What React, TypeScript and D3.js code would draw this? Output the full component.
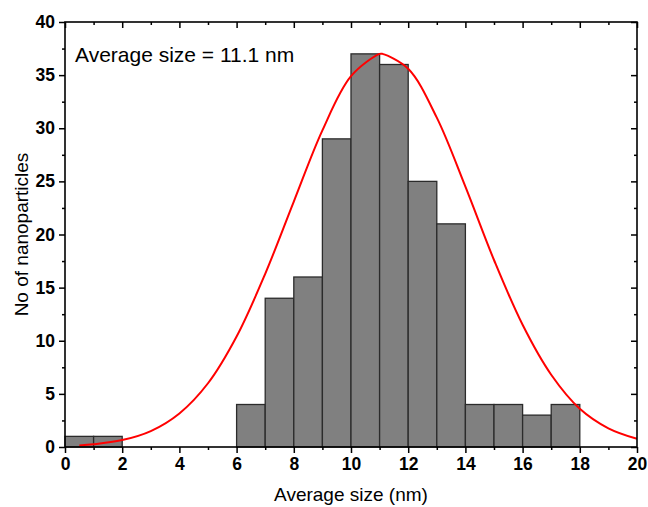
import React, { useRef, useEffect } from "react";
import * as d3 from "d3";

// histogram bins (nm) and counts
const binStarts = [0, 1, 2, 3, 4, 5, 6, 7, 8, 9, 10, 11, 12, 13, 14, 15, 16, 17];
const counts = [1, 1, 0, 0, 0, 0, 4, 14, 16, 29, 37, 36, 25, 21, 4, 4, 3, 4];

// red fit curve
const fitX = [0.5, 1, 2, 3, 4, 5, 6, 7, 8, 9, 10, 11, 11.1, 12, 13, 14, 15, 16, 17, 18, 19, 20];
const fitY = [0.15, 0.25, 0.65, 1.5, 3.16, 6.0, 10.4, 16.3, 23.1, 29.8, 34.9, 37.0, 37.0, 35.6, 31.0, 24.5, 17.6, 11.5, 6.8, 3.6, 1.76, 0.77];

const xMajor = [0, 2, 4, 6, 8, 10, 12, 14, 16, 18, 20];
const yMajor = [0, 5, 10, 15, 20, 25, 30, 35, 40];

const W = 648;
const H = 507;
const margin = { top: 22, right: 11, bottom: 60, left: 65 };

function App() {
  const svgRef = useRef<SVGSVGElement>(null);

  useEffect(() => {
    const svg = d3.select(svgRef.current);
    svg.selectAll("*").remove();

    const x = d3.scaleLinear().domain([0, 20]).range([margin.left, W - margin.right]);
    const y = d3.scaleLinear().domain([0, 40]).range([H - margin.bottom, margin.top]);

    const font = "'Liberation Sans', Arial, sans-serif";

    // bars
    svg
      .append("g")
      .selectAll("rect")
      .data(binStarts.map((b, i) => ({ b, c: counts[i] })).filter((d) => d.c > 0))
      .join("rect")
      .attr("x", (d) => x(d.b))
      .attr("y", (d) => y(d.c))
      .attr("width", (d) => x(d.b + 1) - x(d.b))
      .attr("height", (d) => y(0) - y(d.c))
      .attr("fill", "#808080")
      .attr("stroke", "#2b2b2b")
      .attr("stroke-width", 1.3);

    // fit curve
    const line = d3
      .line<number>()
      .x((d, i) => x(fitX[i]))
      .y((d) => y(d))
      .curve(d3.curveCatmullRom);
    svg
      .append("path")
      .attr("d", line(fitY))
      .attr("fill", "none")
      .attr("stroke", "#ff0000")
      .attr("stroke-width", 2);

    const minorX = d3.range(1, 20, 2);
    const minorY = d3.range(2.5, 40, 5);

    // bottom axis (outward ticks)
    const bottom = svg.append("g").attr("transform", `translate(0,${y(0)})`);
    bottom
      .call(d3.axisBottom(x).tickValues(xMajor).tickSize(6).tickPadding(5).tickFormat(d3.format("d")))
      .call((g) => g.select(".domain").remove());
    bottom.append("g").call(d3.axisBottom(x).tickValues(minorX).tickSize(3).tickFormat(() => ""))
      .call((g) => g.select(".domain").remove());

    // left axis
    const left = svg.append("g").attr("transform", `translate(${x(0)},0)`);
    left
      .call(d3.axisLeft(y).tickValues(yMajor).tickSize(6).tickPadding(4).tickFormat(d3.format("d")))
      .call((g) => g.select(".domain").remove());
    left.append("g").call(d3.axisLeft(y).tickValues(minorY).tickSize(3).tickFormat(() => ""))
      .call((g) => g.select(".domain").remove());

    // top axis (inward ticks)
    const top = svg.append("g").attr("transform", `translate(0,${y(40)})`);
    top.call(d3.axisBottom(x).tickValues(xMajor).tickSize(6).tickFormat(() => ""))
      .call((g) => g.select(".domain").remove());
    top.append("g").call(d3.axisBottom(x).tickValues(minorX).tickSize(3).tickFormat(() => ""))
      .call((g) => g.select(".domain").remove());

    // right axis (inward ticks)
    const right = svg.append("g").attr("transform", `translate(${x(20)},0)`);
    right.call(d3.axisLeft(y).tickValues(yMajor).tickSize(6).tickFormat(() => ""))
      .call((g) => g.select(".domain").remove());
    right.append("g").call(d3.axisLeft(y).tickValues(minorY).tickSize(3).tickFormat(() => ""))
      .call((g) => g.select(".domain").remove());

    svg.selectAll(".tick line").attr("stroke", "#000").attr("stroke-width", 1.5);
    svg
      .selectAll(".tick text")
      .attr("fill", "#000")
      .style("font-family", font)
      .style("font-weight", "bold")
      .style("font-size", "17.5px");

    // frame
    svg
      .append("rect")
      .attr("x", x(0))
      .attr("y", y(40))
      .attr("width", x(20) - x(0))
      .attr("height", y(0) - y(40))
      .attr("fill", "none")
      .attr("stroke", "#000")
      .attr("stroke-width", 1.6);

    // titles
    svg
      .append("text")
      .attr("x", (x(0) + x(20)) / 2)
      .attr("y", 501)
      .attr("text-anchor", "middle")
      .style("font-family", font)
      .style("font-size", "19px")
      .text("Average size (nm)");

    svg
      .append("text")
      .attr("transform", `translate(28,${(y(0) + y(40)) / 2}) rotate(-90)`)
      .attr("text-anchor", "middle")
      .style("font-family", font)
      .style("font-size", "19px")
      .text("No of nanoparticles");

    svg
      .append("text")
      .attr("x", 75)
      .attr("y", 62)
      .style("font-family", font)
      .style("font-size", "21px")
      .text("Average size = 11.1 nm");
  }, []);

  return (
    <svg
      ref={svgRef}
      width={W}
      height={H}
      style={{ position: "absolute", left: 0, top: 0, background: "#fff" }}
    />
  );
}

export default App;
